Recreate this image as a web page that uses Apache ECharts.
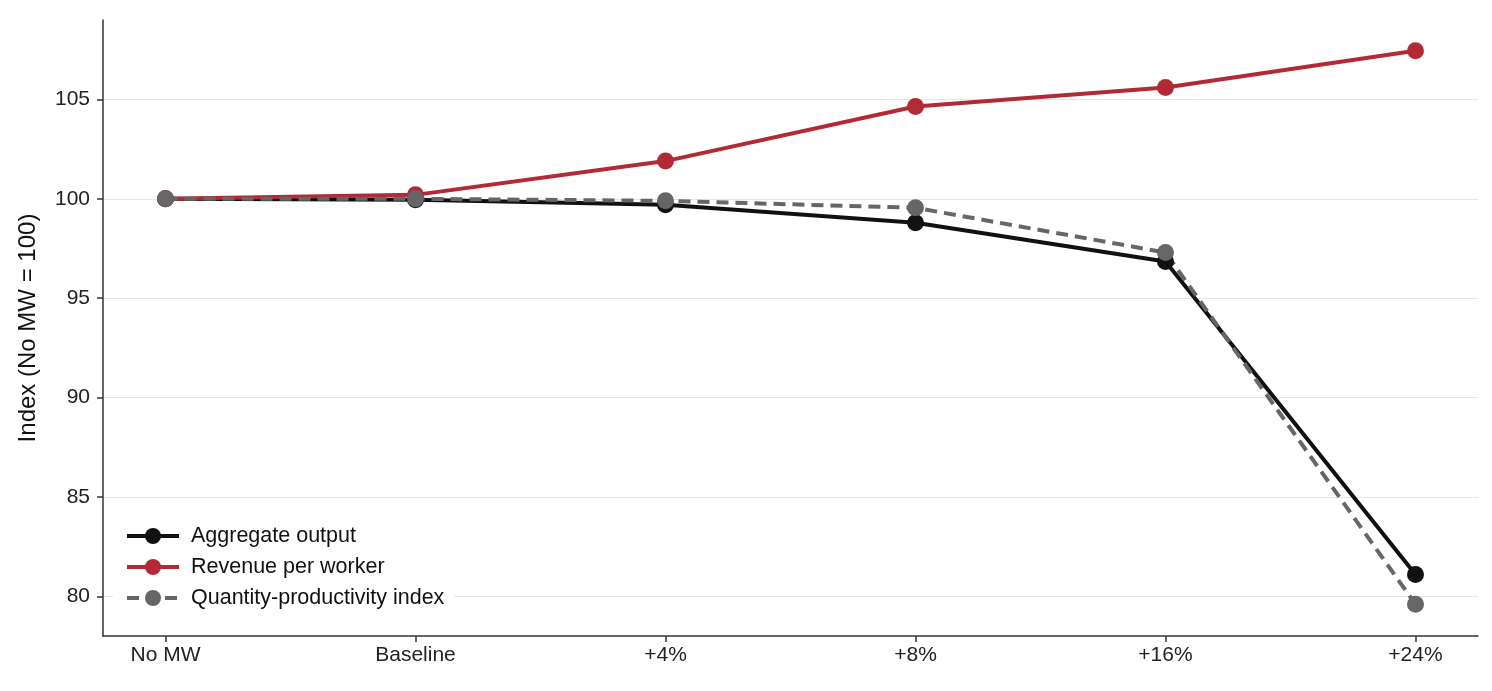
<!DOCTYPE html>
<html lang="en">
<head>
    <meta charset="UTF-8">
    <title>Minimum wage scenarios</title>
    <script src="https://cdn.jsdelivr.net/npm/echarts@6.0.0/dist/echarts.min.js"></script>
    <style>
        html, body { margin: 0; padding: 0; background: #fff; }
        #chart { width: 1492px; height: 691px; }
    </style>
</head>
<body>
    <div id="chart"></div>
    <script>
        // scenarios on the x axis
        const categories = ['No MW', 'Baseline', '+4%', '+8%', '+16%', '+24%'];
        // index values, No MW = 100
        const aggregateOutput = [100, 99.95, 99.7, 98.8, 96.85, 81.1];
        const revenuePerWorker = [100, 100.2, 101.9, 104.65, 105.6, 107.45];
        const quantityProductivity = [100, 100.0, 99.9, 99.55, 97.3, 79.6];
        const yTicks = [80, 85, 90, 95, 100, 105];

        const chart = echarts.init(document.getElementById('chart'));
        const font = 'Helvetica, Arial, "Liberation Sans", sans-serif';

        function pairs(vals) {
            return vals.map((v, i) => [i, v]);
        }

        function makeSeries(name, vals, color, dashed) {
            return {
                name: name,
                type: 'line',
                data: pairs(vals),
                symbol: 'circle',
                symbolSize: 17,
                showSymbol: true,
                lineStyle: { color: color, width: 4, type: dashed ? [12, 7] : 'solid' },
                itemStyle: { color: color },
                emphasis: { disabled: true },
                animation: false
            };
        }

        const option = {
            animation: false,
            grid: { left: 103, right: 14, top: 20, bottom: 55, containLabel: false, outerBoundsMode: 'none' },
            legend: {
                left: 113,
                top: 520,
                z: 10,
                orient: 'vertical',
                backgroundColor: '#fff',
                padding: [5, 10, 5, 12],
                itemWidth: 52,
                itemHeight: 20,
                itemGap: 9,
                lineStyle: { width: 4 },
                textStyle: { fontFamily: font, fontSize: 21.5, color: '#111', padding: [0, 0, 0, 7] },
                data: ['Aggregate output', 'Revenue per worker', 'Quantity-productivity index']
            },
            xAxis: {
                type: 'value',
                min: -0.25,
                max: 5.25,
                splitLine: { show: false },
                axisLine: { show: true, onZero: false, lineStyle: { color: '#333', width: 1.5 } },
                axisTick: { show: true, customValues: [0, 1, 2, 3, 4, 5], length: 6, lineStyle: { color: '#333', width: 1.5 } },
                axisLabel: {
                    customValues: [0, 1, 2, 3, 4, 5],
                    formatter: v => categories[Math.round(v)],
                    fontFamily: font, fontSize: 21, color: '#222', margin: 9
                }
            },
            yAxis: {
                type: 'value',
                min: 78,
                max: 109,
                name: 'Index (No MW = 100)',
                nameLocation: 'middle',
                nameGap: 63,
                nameRotate: 90,
                nameTextStyle: { fontFamily: font, fontSize: 24, color: '#111' },
                axisLine: { show: true, onZero: false, lineStyle: { color: '#333', width: 1.5 } },
                axisTick: { show: true, customValues: yTicks, length: 6, lineStyle: { color: '#333', width: 1.5 } },
                axisLabel: { customValues: yTicks, fontFamily: font, fontSize: 21, color: '#222', margin: 13 },
                splitLine: { show: false }
            },
            series: [
                {
                    // horizontal gridlines at the tick values
                    type: 'line',
                    data: [],
                    silent: true,
                    markLine: {
                        silent: true,
                        z: 0,
                        symbol: 'none',
                        label: { show: false },
                        lineStyle: { color: '#e6e6e6', width: 1.2, type: 'solid' },
                        data: yTicks.map(t => ({ yAxis: t }))
                    },
                    z: 0
                },
                makeSeries('Aggregate output', aggregateOutput, '#111111', false),
                makeSeries('Revenue per worker', revenuePerWorker, '#b32a37', false),
                makeSeries('Quantity-productivity index', quantityProductivity, '#666666', true)
            ]
        };

        chart.setOption(option);
    </script>
</body>
</html>
